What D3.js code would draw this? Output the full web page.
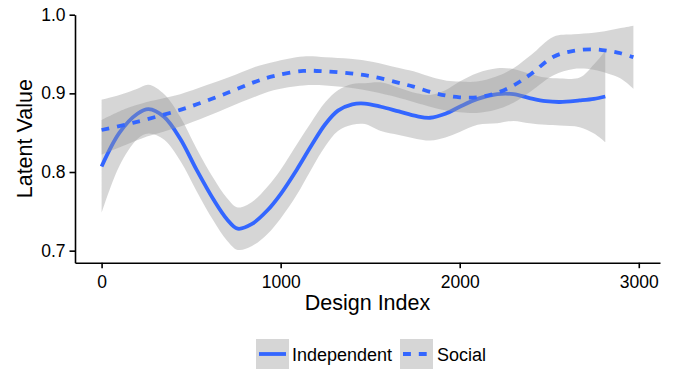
<!DOCTYPE html>
<html>
<head>
<meta charset="utf-8">
<script src="https://cdn.jsdelivr.net/npm/d3@7"></script>
<style>
  html, body { margin: 0; padding: 0; background: #fff; }
  svg { display: block; font-family: "Liberation Sans", Arial, Helvetica, sans-serif; }
</style>
</head>
<body>
<svg id="chart" width="676" height="370"></svg>
<script>
// Smoothed latent value by design index, with confidence ribbons
const independentX   = [0, 100, 200, 262, 350, 440, 530, 625, 700, 760, 840, 925, 1000, 1090, 1170, 1250, 1320, 1400, 1470, 1560, 1660, 1760, 1835, 1920, 2000, 2100, 2210, 2300, 2390, 2480, 2560, 2670, 2750, 2813];
const independentFit = [0.807, 0.850, 0.874, 0.880, 0.870, 0.842, 0.803, 0.765, 0.740, 0.728, 0.734, 0.751, 0.772, 0.803, 0.833, 0.861, 0.878, 0.886, 0.887, 0.883, 0.877, 0.871, 0.869, 0.874, 0.883, 0.893, 0.899, 0.899, 0.894, 0.890, 0.889, 0.891, 0.893, 0.896];
const independentLow = [0.748, 0.808, 0.842, 0.849, 0.841, 0.814, 0.776, 0.738, 0.713, 0.701, 0.706, 0.721, 0.741, 0.771, 0.803, 0.833, 0.852, 0.860, 0.861, 0.852, 0.847, 0.842, 0.840, 0.844, 0.851, 0.860, 0.862, 0.865, 0.862, 0.860, 0.859, 0.857, 0.849, 0.838];
const independentHigh= [0.892, 0.898, 0.906, 0.911, 0.899, 0.870, 0.830, 0.792, 0.767, 0.755, 0.762, 0.781, 0.803, 0.835, 0.863, 0.889, 0.904, 0.912, 0.913, 0.914, 0.907, 0.900, 0.898, 0.904, 0.915, 0.926, 0.932, 0.931, 0.925, 0.920, 0.919, 0.920, 0.937, 0.954];

const socialX    = [0, 130, 253, 439, 580, 718, 849, 960, 1127, 1250, 1388, 1518, 1649, 1742, 1850, 1928, 2000, 2095, 2200, 2300, 2400, 2524, 2636, 2748, 2830, 2899, 2970];
const socialFit  = [0.8534, 0.860, 0.867, 0.879, 0.890, 0.902, 0.914, 0.922, 0.9285, 0.928, 0.9255, 0.921, 0.914, 0.9085, 0.901, 0.897, 0.895, 0.895, 0.900, 0.910, 0.925, 0.9466, 0.954, 0.956, 0.954, 0.951, 0.946];
const socialLow  = [0.822, 0.834, 0.845, 0.858, 0.870, 0.883, 0.895, 0.904, 0.910, 0.910, 0.907, 0.902, 0.895, 0.889, 0.882, 0.878, 0.876, 0.875, 0.879, 0.888, 0.903, 0.923, 0.931, 0.930, 0.925, 0.919, 0.906];
const socialHigh = [0.866, 0.880, 0.889, 0.899, 0.910, 0.921, 0.933, 0.940, 0.947, 0.946, 0.944, 0.940, 0.933, 0.928, 0.920, 0.916, 0.915, 0.915, 0.921, 0.932, 0.949, 0.972, 0.975, 0.977, 0.980, 0.983, 0.986];

const xTicks = [0, 1000, 2000, 3000];
const yTicks = [0.7, 0.8, 0.9, 1.0];
const seriesNames = ["Independent", "Social"];

const xDomain = [-148.5, 3118.5];
const yDomain = [0.6847, 1.0];

const svg = d3.select("#chart");
const panel = { left: 75, right: 660, top: 14.7, bottom: 262.7 };

const x = d3.scaleLinear().domain(xDomain).range([panel.left, panel.right]);
const y = d3.scaleLinear().domain(yDomain).range([panel.bottom, panel.top]);

const blue = "#3366FF";
const lineWidth = 3.8;
const dash = "7.9,7.9";

const toRows = (xs, fit, lo, hi) => xs.map((v, i) => ({ x: v, fit: fit[i], lo: lo[i], hi: hi[i] }));
const series = [
  { name: seriesNames[0], rows: toRows(independentX, independentFit, independentLow, independentHigh), dash: null },
  { name: seriesNames[1], rows: toRows(socialX, socialFit, socialLow, socialHigh), dash: dash }
];

const curve = d3.curveCatmullRom.alpha(0.5);
const ribbon = d3.area().x(d => x(d.x)).y0(d => y(d.lo)).y1(d => y(d.hi)).curve(curve);
const line = d3.line().x(d => x(d.x)).y(d => y(d.fit)).curve(curve);

// each group draws its ribbon then its line, in order
series.forEach(s => {
  const g = svg.append("g").attr("class", "series");
  g.append("path").datum(s.rows)
    .attr("d", ribbon)
    .attr("fill", "#999999")
    .attr("fill-opacity", 0.4);
  g.append("path").datum(s.rows)
    .attr("d", line)
    .attr("fill", "none")
    .attr("stroke", blue)
    .attr("stroke-width", lineWidth)
    .attr("stroke-dasharray", s.dash);
});

// axes
const xAxis = svg.append("g")
  .attr("transform", `translate(0,${panel.bottom})`)
  .call(d3.axisBottom(x).tickValues(xTicks).tickFormat(d3.format("d")).tickSize(5.5).tickSizeOuter(0).tickPadding(4));
const yAxis = svg.append("g")
  .attr("transform", `translate(${panel.left},0)`)
  .call(d3.axisLeft(y).tickValues(yTicks).tickFormat(d3.format(".1f")).tickSize(5.5).tickSizeOuter(0).tickPadding(4));

[xAxis, yAxis].forEach(a => {
  a.select(".domain").attr("stroke", "#000").attr("stroke-width", 1.6);
  a.selectAll(".tick line").attr("stroke", "#000").attr("stroke-width", 1.6);
  a.selectAll(".tick text").attr("fill", "#000").attr("font-size", "17.5px")
    .attr("font-family", "'Liberation Sans', Arial, sans-serif");
});
xAxis.selectAll(".tick text").attr("dy", "0.9em");

// axis titles
svg.append("text")
  .attr("x", (panel.left + panel.right) / 2)
  .attr("y", 310)
  .attr("text-anchor", "middle")
  .attr("font-size", "21.5px")
  .attr("fill", "#000")
  .text("Design Index");

svg.append("text")
  .attr("transform", `translate(32,${(panel.top + panel.bottom) / 2}) rotate(-90)`)
  .attr("text-anchor", "middle")
  .attr("font-size", "21.5px")
  .attr("fill", "#000")
  .text("Latent Value");

// legend
const keyW = 33, keyH = 30, keyY = 339;
const legendItems = [
  { name: seriesNames[0], keyX: 256, textX: 292, dash: null },
  { name: seriesNames[1], keyX: 400, textX: 437, dash: dash }
];
const legend = svg.append("g").attr("class", "legend");
legendItems.forEach(item => {
  legend.append("rect")
    .attr("x", item.keyX).attr("y", keyY)
    .attr("width", keyW).attr("height", keyH)
    .attr("fill", "#999999").attr("fill-opacity", 0.4);
  legend.append("line")
    .attr("x1", item.keyX + 3).attr("x2", item.keyX + keyW - 3)
    .attr("y1", keyY + keyH / 2).attr("y2", keyY + keyH / 2)
    .attr("stroke", blue).attr("stroke-width", lineWidth)
    .attr("stroke-dasharray", item.dash);
  legend.append("text")
    .attr("x", item.textX).attr("y", 361)
    .attr("font-size", "18px")
    .attr("fill", "#000")
    .text(item.name);
});
</script>
</body>
</html>
